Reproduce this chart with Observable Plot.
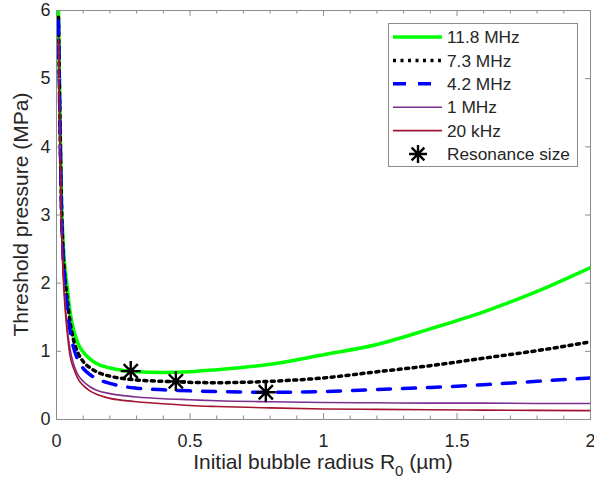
<!DOCTYPE html>
<html><head><meta charset="utf-8">
<script src="https://cdn.jsdelivr.net/npm/d3@7"></script>
<script src="https://cdn.jsdelivr.net/npm/@observablehq/plot@0.6"></script>
<style>body{margin:0;background:#fff;} svg{display:block}</style>
</head><body><div id="chart"></div>
<script>
// Initial bubble radius R0 (µm), shared sample grid
const radius = [0.0075, 0.011, 0.015, 0.019, 0.025, 0.03, 0.04, 0.05, 0.065, 0.08, 0.1, 0.125, 0.15, 0.2, 0.25, 0.3, 0.4, 0.5, 0.6, 0.8, 1.0, 1.2, 1.4, 1.6, 1.8, 2.0];
// Threshold pressure (MPa)
const p11_8MHz = [6.0, 5.0, 4.0, 3.2, 2.6, 2.3, 1.95, 1.6, 1.3, 1.12, 0.99, 0.89, 0.82, 0.755, 0.72, 0.70, 0.69, 0.70, 0.73, 0.81, 0.95, 1.10, 1.33, 1.58, 1.88, 2.23];
const p7_3MHz = [5.9, 4.9, 3.9, 3.1, 2.45, 2.15, 1.78, 1.45, 1.15, 0.98, 0.85, 0.76, 0.70, 0.635, 0.60, 0.58, 0.56, 0.545, 0.54, 0.56, 0.61, 0.70, 0.79, 0.90, 1.01, 1.14];
const p4_2MHz = [5.85, 4.85, 3.85, 3.0, 2.4, 2.1, 1.65, 1.32, 1.04, 0.88, 0.75, 0.66, 0.60, 0.53, 0.485, 0.46, 0.435, 0.42, 0.41, 0.40, 0.41, 0.44, 0.47, 0.51, 0.56, 0.61];
const p1MHz = [5.6, 4.7, 3.7, 2.9, 2.2, 1.85, 1.35, 1.05, 0.80, 0.66, 0.56, 0.48, 0.43, 0.38, 0.35, 0.33, 0.305, 0.29, 0.275, 0.26, 0.25, 0.245, 0.24, 0.24, 0.235, 0.235];
const p20kHz = [5.55, 4.6, 3.6, 2.8, 2.1, 1.75, 1.28, 0.95, 0.74, 0.60, 0.50, 0.42, 0.37, 0.31, 0.28, 0.26, 0.23, 0.205, 0.19, 0.17, 0.155, 0.148, 0.142, 0.138, 0.134, 0.13];
const seriesNames = ["11.8 MHz", "7.3 MHz", "4.2 MHz", "1 MHz", "20 kHz"];
const resonanceR = [0.278, 0.447, 0.784];
const resonanceP = [0.71, 0.56, 0.40];
const resonanceLabel = "Resonance size";
const xTicks = [0, 0.5, 1, 1.5, 2];
const xTickLabels = ["0", "0.5", "1", "1.5", "2"];
const xMinorTicks = [0.1, 0.2, 0.3, 0.4, 0.6, 0.7, 0.8, 0.9, 1.1, 1.2, 1.3, 1.4, 1.6, 1.7, 1.8, 1.9];
const yTicks = [0, 1, 2, 3, 4, 5, 6];
const yTickLabels = ["0", "1", "2", "3", "4", "5", "6"];
const xLabelMain = "Initial bubble radius R";
const xLabelSub = "0";
const xLabelTail = " (µm)";
const yLabel = "Threshold pressure (MPa)";

// styles
const seriesStyle = [
  {stroke: "#00ff00", strokeWidth: 3.5, dash: null},
  {stroke: "#000000", strokeWidth: 3.5, dash: "3,4.5"},
  {stroke: "#0000ff", strokeWidth: 3.5, dash: "13,12"},
  {stroke: "#7E2F8E", strokeWidth: 1.6, dash: null},
  {stroke: "#A2142F", strokeWidth: 1.6, dash: null}
];
const seriesValues = [p11_8MHz, p7_3MHz, p4_2MHz, p1MHz, p20kHz];
const rows = seriesValues.map(vals => radius.map((r, i) => ({R: r, P: vals[i]})));
const stars = resonanceR.map((r, i) => ({R: r, P: resonanceP[i]}));

const asterisk8 = {
  draw(ctx, size) {
    const r = Math.sqrt(size / Math.PI), d = r * Math.SQRT1_2;
    ctx.moveTo(0, -r); ctx.lineTo(0, r);
    ctx.moveTo(-r, 0); ctx.lineTo(r, 0);
    ctx.moveTo(-d, -d); ctx.lineTo(d, d);
    ctx.moveTo(-d, d); ctx.lineTo(d, -d);
  }
};

const W = 594, H = 486, mL = 56, mR = 4, mT = 10, mB = 67;
const innerH = H - mT - mB, innerW = W - mL - mR;
const axisColor = "#8c8c8c", textColor = "#262626";
const font = "'Liberation Sans', Arial, Helvetica, sans-serif";

const chart = Plot.plot({
  width: W, height: H,
  marginLeft: mL, marginRight: mR, marginTop: mT, marginBottom: mB,
  style: {fontFamily: font, background: "#fff", color: textColor},
  x: {domain: [0, 2]},
  y: {domain: [0, 6]},
  marks: [
    ...rows.map((data, k) => Plot.line(data, {
      x: "R", y: "P", stroke: seriesStyle[k].stroke, strokeWidth: seriesStyle[k].strokeWidth,
      strokeDasharray: seriesStyle[k].dash, curve: "monotone-x", clip: true
    })),
    Plot.dot(stars, {x: "R", y: "P", symbol: asterisk8, r: 10, stroke: "#000", strokeWidth: 2.4, fill: "none"}),
    Plot.frame({stroke: axisColor}),
    // inward ticks (bottom / top)
    Plot.ruleX(xTicks, {x: d => d, insetTop: innerH - 6, stroke: axisColor}),
    Plot.ruleX(xMinorTicks, {x: d => d, insetTop: innerH - 3.5, stroke: axisColor}),
    Plot.ruleX(xTicks, {x: d => d, insetBottom: innerH - 6, stroke: axisColor}),
    Plot.ruleX(xMinorTicks, {x: d => d, insetBottom: innerH - 3.5, stroke: axisColor}),
    // inward ticks (left / right)
    Plot.ruleY(yTicks, {y: d => d, insetRight: innerW - 5, stroke: axisColor}),
    Plot.ruleY(yTicks, {y: d => d, insetLeft: innerW - 5, stroke: axisColor}),
    Plot.axisX(xTicks, {tickSize: 0, tickPadding: 15, fontSize: 18, fill: textColor, tickFormat: (d, i) => xTickLabels[i], label: null}),
    Plot.axisY(yTicks, {tickSize: 0, tickPadding: 6, fontSize: 18, fill: textColor, tickFormat: (d, i) => yTickLabels[i], label: null})
  ]
});
document.getElementById("chart").appendChild(chart);

const svg = d3.select(chart);
// x label with subscript
const xl = svg.append("text").attr("x", mL + innerW / 2).attr("y", 469)
  .attr("text-anchor", "middle").attr("font-size", 21).attr("fill", textColor).attr("font-family", font);
xl.append("tspan").text(xLabelMain);
xl.append("tspan").text(xLabelSub).attr("font-size", 15).attr("dy", 7);
xl.append("tspan").text(xLabelTail).attr("dy", -7);
// y label
svg.append("text").attr("transform", `translate(28,${mT + innerH / 2}) rotate(-90)`)
  .attr("text-anchor", "middle").attr("font-size", 21).attr("fill", textColor).attr("font-family", font)
  .text(yLabel);

// legend
const lg = svg.append("g").attr("font-family", font).attr("font-size", 17.3).attr("fill", textColor)
  .attr("text-anchor", "start");
lg.append("rect").attr("x", 388.5).attr("y", 23.5).attr("width", 189).attr("height", 143)
  .attr("fill", "#fff").attr("stroke", axisColor);
const rowY = i => 37 + i * 23.4;
seriesNames.forEach((name, i) => {
  const s = seriesStyle[i];
  lg.append("line").attr("x1", 393).attr("x2", 442).attr("y1", rowY(i)).attr("y2", rowY(i))
    .attr("stroke", s.stroke).attr("stroke-width", s.strokeWidth)
    .attr("stroke-dasharray", s.dash);
  lg.append("text").attr("x", 447).attr("y", rowY(i)).attr("dy", "0.36em").attr("text-anchor", "start").text(name);
});
lg.append("path").attr("transform", `translate(418,${rowY(5)})`)
  .attr("d", d3.symbol(asterisk8, 81 * Math.PI)()).attr("stroke", "#000").attr("stroke-width", 2.4).attr("fill", "none");
lg.append("text").attr("x", 447).attr("y", rowY(5)).attr("dy", "0.36em").attr("text-anchor", "start").text(resonanceLabel);
</script>
</body></html>
